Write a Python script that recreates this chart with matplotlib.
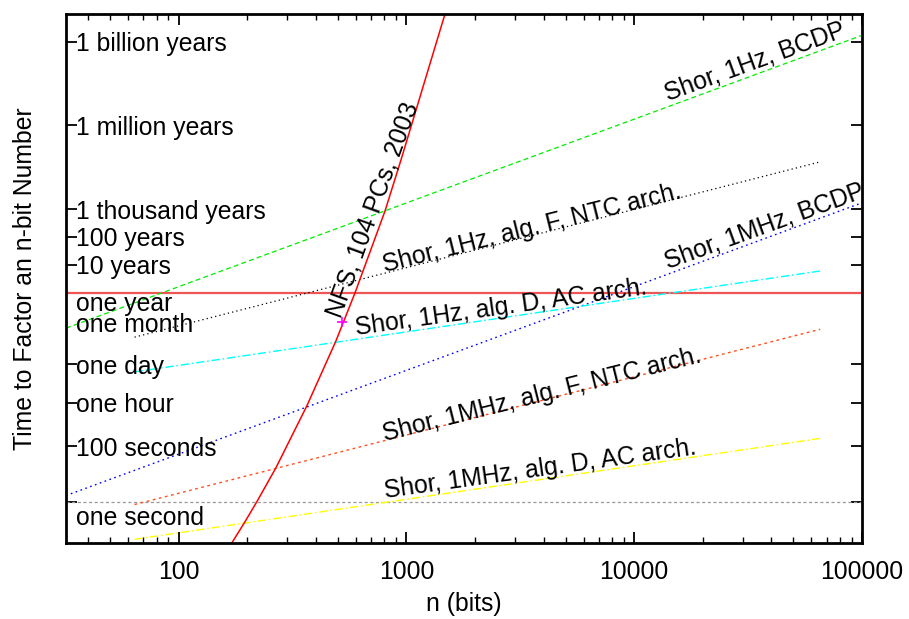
import matplotlib
matplotlib.use("Agg")
import matplotlib.pyplot as plt
import matplotlib.transforms as mtransforms
from matplotlib.ticker import FixedLocator, NullLocator, LogLocator, NullFormatter

plt.rcParams['font.family'] = ['Liberation Sans', 'DejaVu Sans']

YEAR = 365.25 * 86400

bcdp_n = [32, 100000]
bcdp_1hz = [1.7e6, 5.3e16]
bcdp_1mhz = [1.7, 5.3e10]

alg_n = [64, 65536]
algf_1hz = [8.1e5, 1.55e12]
algf_1mhz = [0.81, 1.55e6]
algd_1hz = [4.6e4, 1.9e8]
algd_1mhz = [0.046, 190]

# number field sieve curve
nfs_n = [165, 171, 195, 220, 267, 365, 490, 594, 805, 946, 1476, 1520]
nfs_t = [10**-1.9, 10**-1.47, 10**-0.72, 1.0, 10**1.22, 10**3.44, 10**5.77,
         10**7.49, 10**10.43, 10**12.26, 10**17.49, 10**17.9]
nfs_point_n = [522]
nfs_point_t = [2.8e6]

# y ticks (seconds) and their labels
ytick_vals = [1e9 * YEAR, 1e6 * YEAR, 1e3 * YEAR, 100 * YEAR, 10 * YEAR,
              YEAR, 86400, 3600, 100, 1]
ylabel_vals = [1e9 * YEAR, 1e6 * YEAR, 1e3 * YEAR, 100 * YEAR, 10 * YEAR,
               YEAR, YEAR / 12, 86400, 3600, 100, 1]
ylabel_text = ["1 billion years", "1 million years", "1 thousand years",
               "100 years", "10 years", "one year", "one month", "one day",
               "one hour", "100 seconds", "one second"]
ylabel_shift = [0, 0, 0, 0, 0, 9, 0, 0, 0, 0, 14]   # pixels down

xtick_vals = [100, 1000, 10000, 100000]
xtick_text = ["100", "1000", "10000", "100000"]

fs = 17.8

fig = plt.figure(figsize=(9.09, 6.19), dpi=100)
ax = fig.add_axes([66 / 909, 76 / 619, 796 / 909, 529 / 619])
ax.set_xscale('log')
ax.set_yscale('log')
ax.set_xlim(32, 100000)
ax.set_ylim(10**-1.47, 10**17.49)

# reference lines
ax.axhline(YEAR, color='#f05555', lw=1.6, zorder=2)
ax.axhline(1, color='#999999', lw=0.9, linestyle=(0, (2.5, 2)), zorder=2)

ax.plot(bcdp_n, bcdp_1hz, color='#00ee00', lw=0.9, linestyle=(0, (4, 2.5)))
ax.plot(alg_n, algf_1hz, color='black', lw=0.9, linestyle=(0, (1, 2.5)))
ax.plot(bcdp_n, bcdp_1mhz, color='#0000ff', lw=1.0, linestyle=(0, (1.2, 2.5)))
ax.plot(alg_n, algd_1hz, color='#00ffff', lw=1.0, linestyle=(0, (6, 2, 1.2, 2)))
ax.plot(alg_n, algf_1mhz, color='#ff5020', lw=1.0, linestyle=(0, (2, 2.5)))
ax.plot(alg_n, algd_1mhz, color='#ffff00', lw=1.0, linestyle=(0, (6, 2, 1.2, 2)))
ax.plot(nfs_n, nfs_t, color='#ff0000', lw=1.1)
ax.plot(nfs_point_n, nfs_point_t, '+', color='#ff00ff', ms=7, mew=1.2)

# curve labels
lab = dict(fontsize=fs, ha='left', va='baseline', rotation_mode='anchor')
ax.text(14100, 10**14.37, "Shor, 1Hz, BCDP", rotation=20, **lab)
ax.text(804, 10**8.24, "Shor, 1Hz, alg. F, NTC arch.", rotation=14, **lab)
ax.text(14100, 10**8.35, "Shor, 1MHz, BCDP", rotation=20, **lab)
ax.text(605, 10**5.99, "Shor, 1Hz, alg. D, AC arch.", rotation=8, **lab)
ax.text(804, 10**2.19, "Shor, 1MHz, alg. F, NTC arch.", rotation=14, **lab)
ax.text(804, 10**0.14, "Shor, 1MHz, alg. D, AC arch.", rotation=8, **lab)
ax.text(515, 10**6.55, "NFS, 104 PCs, 2003", rotation=70, **lab)

# y tick labels drawn inside the frame
trans = mtransforms.blended_transform_factory(ax.transAxes, ax.transData)
for v, t, s in zip(ylabel_vals, ylabel_text, ylabel_shift):
    off = mtransforms.offset_copy(trans, fig=fig, x=10, y=-s, units='dots')
    ax.text(0, v, t, transform=off, fontsize=fs, ha='left', va='center_baseline')

ax.yaxis.set_major_locator(FixedLocator(ytick_vals))
ax.yaxis.set_minor_locator(NullLocator())
ax.set_yticklabels([])
ax.xaxis.set_major_locator(FixedLocator(xtick_vals))
ax.set_xticklabels(xtick_text)
ax.xaxis.set_minor_locator(LogLocator(base=10, subs=range(2, 10), numticks=20))
ax.xaxis.set_minor_formatter(NullFormatter())

ax.tick_params(which='major', direction='in', length=8, width=1.3,
               top=True, right=True, labelsize=fs, pad=12)
ax.tick_params(which='minor', direction='in', length=4, width=1.0, top=True)
for sp in ax.spines.values():
    sp.set_linewidth(2)

ax.set_xlabel("n (bits)", fontsize=fs, labelpad=6)
ax.set_ylabel("Time to Factor an n-bit Number", fontsize=fs, labelpad=9)

fig.savefig("out.png", dpi=100)
